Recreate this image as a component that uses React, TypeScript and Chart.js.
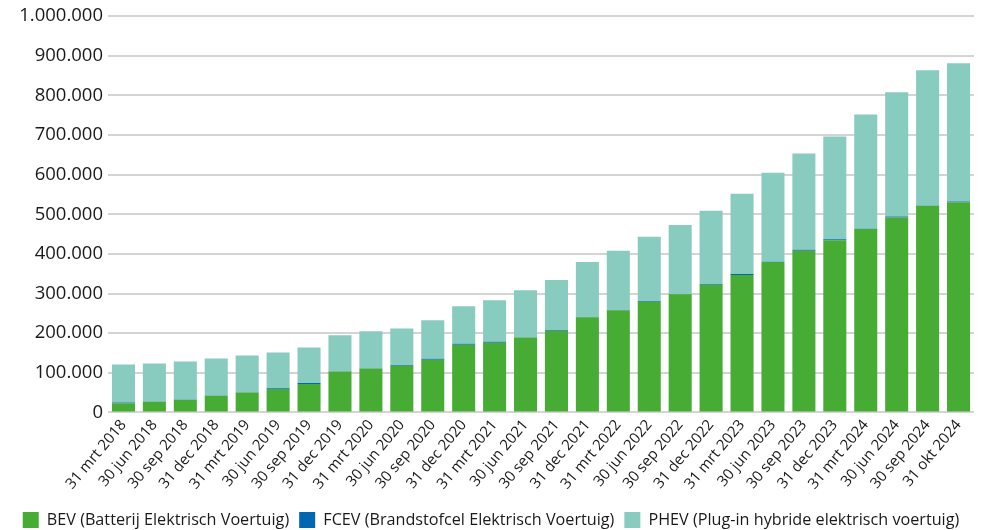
import React, { useEffect, useRef } from "react";
import { Chart, registerables } from "chart.js";

Chart.register(...registerables);

const categories = [
  "31 mrt 2018", "30 jun 2018", "30 sep 2018", "31 dec 2018",
  "31 mrt 2019", "30 jun 2019", "30 sep 2019", "31 dec 2019",
  "31 mrt 2020", "30 jun 2020", "30 sep 2020", "31 dec 2020",
  "31 mrt 2021", "30 jun 2021", "30 sep 2021", "31 dec 2021",
  "31 mrt 2022", "30 jun 2022", "30 sep 2022", "31 dec 2022",
  "31 mrt 2023", "30 jun 2023", "30 sep 2023", "31 dec 2023",
  "31 mrt 2024", "30 jun 2024", "30 sep 2024", "31 okt 2024",
];

const bevValues = [
  23000, 27000, 32000, 42000, 50000, 59000, 72000, 103000,
  111000, 117500, 133000, 171000, 176000, 189000, 206000, 240000,
  258000, 279000, 298000, 322000, 347000, 379500, 408000, 434500,
  463000, 492000, 521500, 530000,
];

const fcevValues = [
  2200, 600, 600, 600, 600, 2200, 2200, 600,
  600, 2200, 2200, 2200, 2200, 600, 2200, 600,
  600, 2200, 600, 2200, 2200, 600, 2200, 2200,
  600, 2200, 600, 2200,
];

const phevValues = [
  95800, 95900, 95900, 93400, 93100, 89800, 89800, 90800,
  93000, 92300, 97400, 94800, 104800, 118900, 125800, 138900,
  149000, 161800, 174400, 184500, 202800, 224900, 242800, 259300,
  288400, 313800, 341500, 348800,
];

const seriesLabels = [
  "BEV (Batterij Elektrisch Voertuig)",
  "FCEV (Brandstofcel Elektrisch Voertuig)",
  "PHEV (Plug-in hybride elektrisch voertuig)",
];

const yMax = 1000000;
const yStep = 100000;

const fmt = (v: number) =>
  String(Math.round(v)).replace(/\B(?=(\d{3})+(?!\d))/g, ".");

export default function App() {
  const canvasRef = useRef<HTMLCanvasElement | null>(null);

  useEffect(() => {
    const canvas = canvasRef.current;
    if (!canvas) return;
    const chart = new Chart(canvas, {
      type: "bar",
      data: {
        labels: categories,
        datasets: [
          {
            label: seriesLabels[0],
            data: bevValues,
            backgroundColor: "#46ac34",
            stack: "s",
          },
          {
            label: seriesLabels[1],
            data: fcevValues,
            backgroundColor: "#0067b1",
            stack: "s",
          },
          {
            label: seriesLabels[2],
            data: phevValues,
            backgroundColor: "#88cbbf",
            stack: "s",
          },
        ],
      },
      options: {
        animation: false,
        responsive: false,
        maintainAspectRatio: false,
        layout: { padding: { left: 8, right: 10, top: 8, bottom: -8 } },
        datasets: {
          bar: { barPercentage: 0.745, categoryPercentage: 1 },
        },
        plugins: {
          tooltip: { enabled: false },
          legend: {
            position: "bottom",
            labels: {
              boxWidth: 16,
              boxHeight: 16,
              padding: 10,
              color: "#1a1a1a",
              font: { family: "'Open Sans', sans-serif", size: 16.2 },
            },
          },
        },
        scales: {
          x: {
            stacked: true,
            grid: { display: false, drawTicks: false },
            border: { display: false },
            afterFit: (scale: any) => {
              scale.height = scale.height + 5;
            },
            ticks: {
              minRotation: 50,
              maxRotation: 50,
              autoSkip: false,
              padding: 4,
              color: "#1a1a1a",
              font: { family: "'Open Sans', sans-serif", size: 15 },
            },
          },
          y: {
            stacked: true,
            min: 0,
            max: yMax,
            afterFit: (scale: any) => {
              scale.width = 100;
            },
            grid: { color: "#d4d4d4", lineWidth: 2, drawTicks: false },
            border: { display: false },
            ticks: {
              stepSize: yStep,
              padding: 5,
              color: "#1a1a1a",
              font: { family: "'Open Sans', sans-serif", size: 18.5 },
              callback: (v: any) => fmt(Number(v)),
            },
          },
        },
      },
    });
    return () => chart.destroy();
  }, []);

  return (
    <div style={{ position: "fixed", left: 0, top: 0, width: 984, height: 530, background: "#fff" }}>
      <canvas ref={canvasRef} width={984} height={530} style={{ width: 984, height: 530, display: "block" }} />
    </div>
  );
}
